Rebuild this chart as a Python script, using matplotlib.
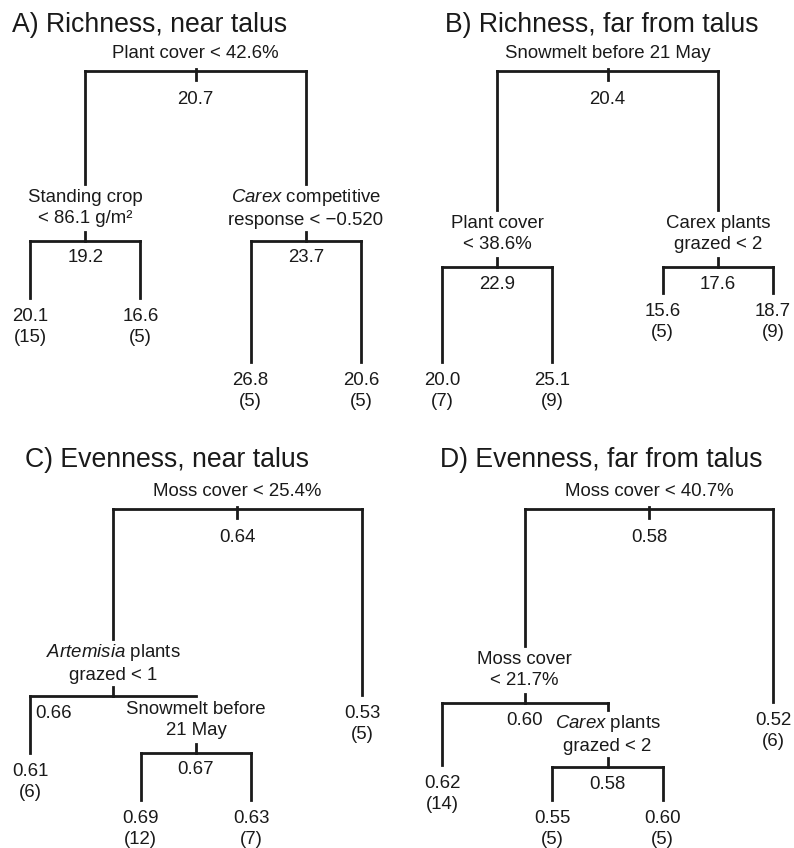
"""Regression trees for richness and evenness, near and far from talus."""

import matplotlib.pyplot as plt

plt.rcParams["font.family"] = ["Liberation Sans", "DejaVu Sans"]
plt.rcParams["mathtext.fontset"] = "custom"
plt.rcParams["mathtext.rm"] = "Liberation Sans"
plt.rcParams["mathtext.it"] = "Liberation Sans:italic"

W, H, DPI = 794, 848, 100
INK = "#1a1a1a"

# --- data: node ids use R tree numbering (children of n are 2n and 2n+1) ---
titles = [
    "A) Richness, near talus",
    "B) Richness, far from talus",
    "C) Evenness, near talus",
    "D) Evenness, far from talus",
]

a_split_ids = [1, 2, 3]
a_split_text = [
    "Plant cover < 42.6%",
    "Standing crop\n< 86.1 g/m²",
    "$\\it{Carex}$ competitive\nresponse < \u22120.520",
]
a_split_mean = [20.7, 19.2, 23.7]
a_split_dev = [1.0, 0.416, 0.416]
a_leaf_ids = [4, 5, 6, 7]
a_leaf_mean = [20.1, 16.6, 26.8, 20.6]
a_leaf_n = [15, 5, 5, 5]
a_leaf_dev = [0.22, 0.22, 0.0, 0.0]

b_split_ids = [1, 2, 3]
b_split_text = [
    "Snowmelt before 21 May",
    "Plant cover\n< 38.6%",
    "Carex plants\ngrazed < 2",
]
b_split_mean = [20.4, 22.9, 17.6]
b_split_dev = [1.0, 0.326, 0.326]
b_leaf_ids = [4, 5, 6, 7]
b_leaf_mean = [20.0, 25.1, 15.6, 18.7]
b_leaf_n = [7, 9, 5, 9]
b_leaf_dev = [0.0, 0.0, 0.237, 0.237]

c_split_ids = [1, 2, 5]
c_split_text = [
    "Moss cover < 25.4%",
    "$\\it{Artemisia}$ plants\ngrazed < 1",
    "Snowmelt before\n21 May",
]
c_split_mean = [0.64, 0.66, 0.67]
c_split_dev = [1.0, 0.357, 0.162]
c_leaf_ids = [3, 4, 10, 11]
c_leaf_mean = [0.53, 0.61, 0.69, 0.63]
c_leaf_n = [5, 6, 12, 7]
c_leaf_dev = [0.361, 0.162, 0.0, 0.0]

d_split_ids = [1, 2, 5]
d_split_text = [
    "Moss cover < 40.7%",
    "Moss cover\n< 21.7%",
    "$\\it{Carex}$ plants\ngrazed < 2",
]
d_split_mean = [0.58, 0.60, 0.58]
d_split_dev = [1.0, 0.333, 0.113]
d_leaf_ids = [3, 4, 10, 11]
d_leaf_mean = [0.52, 0.62, 0.55, 0.60]
d_leaf_n = [6, 14, 5, 5]
d_leaf_dev = [0.337, 0.12, 0.0, 0.0]

# --- layout (pixels): first leaf x, last leaf x, root bar y, title x, title baseline
PANEL_BOX = [(30, 361, 71, 12, 32), (442, 773, 71, 445, 32),
             (30, 362, 509, 25, 467), (442, 773, 509, 440, 467)]
DEV_PX = 291  # pixels per unit of relative deviance
PT = 72 / DPI  # pixels -> points


def draw_tree(ax, split_ids, split_text, split_mean, split_dev,
              leaf_ids, leaf_mean, leaf_n, leaf_dev, fmt, mean_dx=None):
    dev = dict(zip(split_ids + leaf_ids, split_dev + leaf_dev))
    text_of = dict(zip(split_ids, split_text))
    mean_of = dict(zip(split_ids + leaf_ids, split_mean + leaf_mean))
    n_of = dict(zip(leaf_ids, leaf_n))
    mean_dx = mean_dx or {}

    order = []

    def walk(node):
        if node in n_of:
            order.append(node)
        else:
            walk(2 * node)
            walk(2 * node + 1)

    walk(1)
    xpos = {node: i + 1 for i, node in enumerate(order)}

    def place(node):
        if node not in xpos:
            xpos[node] = (place(2 * node) + place(2 * node + 1)) / 2
        return xpos[node]

    place(1)

    line_kw = dict(color=INK, lw=2.0, solid_capstyle="projecting", clip_on=False)
    text_kw = dict(ha="center", va="center", fontsize=13.4, color=INK,
                   textcoords="offset points", annotation_clip=False)

    for node in split_ids:
        x, y = xpos[node], dev[node]
        left, right = 2 * node, 2 * node + 1
        ax.plot([xpos[left], xpos[right]], [y, y], **line_kw)
        if node == 1:
            ax.plot([x, x], [y + 2 / DEV_PX, y - 9 / DEV_PX], **line_kw)
            ax.annotate(text_of[node], (x, y), xytext=(0, 17 * PT), **text_kw)
            ax.annotate(fmt.format(mean_of[node]), (x, y),
                        xytext=(0, -29 * PT), **text_kw)
        else:
            ax.plot([x, x], [y, y + 9 / DEV_PX], **line_kw)
            ax.annotate(text_of[node], (x, y), xytext=(0, 33 * PT),
                        linespacing=1.3, **text_kw)
            ax.annotate(fmt.format(mean_of[node]), (x, y),
                        xytext=(mean_dx.get(node, 0) * PT, -17 * PT), **text_kw)
        for child in (left, right):
            if child in n_of:
                end = dev[child]
            else:
                end = min(y, dev[child] + 57 / DEV_PX)
            ax.plot([xpos[child], xpos[child]], [y, end], **line_kw)

    for node in leaf_ids:
        ax.annotate(f"{fmt.format(mean_of[node])}\n({n_of[node]})",
                    (xpos[node], dev[node]), xytext=(0, -29 * PT),
                    linespacing=1.35, **text_kw)


fig = plt.figure(figsize=(W / DPI, H / DPI), dpi=DPI)

panels = [
    (a_split_ids, a_split_text, a_split_mean, a_split_dev,
     a_leaf_ids, a_leaf_mean, a_leaf_n, a_leaf_dev, "{:.1f}", None),
    (b_split_ids, b_split_text, b_split_mean, b_split_dev,
     b_leaf_ids, b_leaf_mean, b_leaf_n, b_leaf_dev, "{:.1f}", None),
    (c_split_ids, c_split_text, c_split_mean, c_split_dev,
     c_leaf_ids, c_leaf_mean, c_leaf_n, c_leaf_dev, "{:.2f}", {2: -59}),
    (d_split_ids, d_split_text, d_split_mean, d_split_dev,
     d_leaf_ids, d_leaf_mean, d_leaf_n, d_leaf_dev, "{:.2f}", None),
]

for title, box, args in zip(titles, PANEL_BOX, panels):
    x0, x1, root_y, tx, ty = box
    ax = fig.add_axes([x0 / W, 1 - (root_y + DEV_PX) / H, (x1 - x0) / W, DEV_PX / H])
    ax.set_xlim(1, 4)
    ax.set_ylim(0, 1)
    ax.axis("off")
    draw_tree(ax, *args)
    fig.text(tx / W, 1 - ty / H, title, ha="left", va="baseline",
             fontsize=19.2, color=INK)

fig.savefig("out.png", dpi=DPI)
